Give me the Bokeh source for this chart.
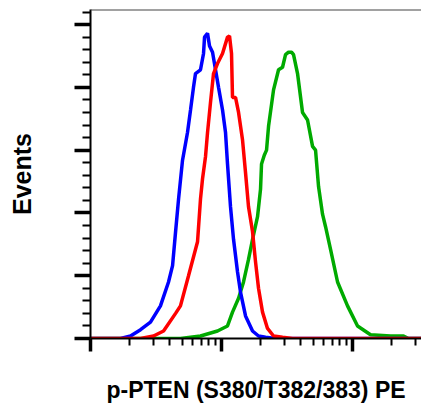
from bokeh.plotting import figure
from bokeh.models import FixedTicker, Span
from bokeh.embed import file_html
from bokeh.resources import INLINE

# Fluorescence intensity (log axis) and event counts for each histogram
blue_x = [1, 1.694, 2.02, 2.41, 2.87, 3.42, 3.94, 4.23, 4.46, 4.70, 5.04, 5.50, 5.80, 6.11, 6.33,
          6.91, 7.29, 7.42, 7.82, 8.10, 8.54, 9.00, 9.49, 10.18, 10.73, 11.11, 11.71, 12.35, 13.25,
          13.96, 15.25, 17.25, 19.16, 21.68, 25.84, 336]
blue_y = [0, 0, 2, 7, 13, 26, 45, 58, 85, 111, 142, 164, 182, 200, 211,
          214, 227, 240, 243, 233, 228, 214, 200, 182, 164, 139, 105, 79, 53,
          37, 18, 6, 2, 1, 0, 0]

red_x = [1, 2.41, 3.03, 3.61, 4.46, 4.86, 5.60, 6.56, 6.91, 7.16, 7.55, 7.82, 8.24, 8.69, 9.32,
         10.18, 11.11, 11.51, 11.92, 12.13, 12.79, 13.49, 14.47, 15.25, 16.07, 17.25, 18.18, 19.16,
         20.56, 22.44, 24.95, 29.22, 34.83, 336]
red_y = [0, 0, 2, 6, 20, 26, 50, 77, 111, 127, 145, 164, 188, 211, 219,
         227, 240, 241, 227, 192, 192, 180, 158, 132, 105, 85, 61, 40,
         21, 8, 2, 1, 0, 0]

green_x = [1, 4.86, 6.91, 9.32, 11.11, 12.13, 13.49, 14.72, 16.07, 17.25, 18.83, 19.85, 20.20,
           21.2, 22.06, 22.85, 24.95, 27.24, 29.22, 30.80, 32.48, 34.22, 35.45, 38.04, 41.53,
           45.35, 49.52, 52.20, 55.03, 59.02, 62.23, 67.94, 76.84, 91.57, 109.2, 137.2, 195.0,
           245.1, 267.6, 336]
green_y = [0, 0, 2, 6, 10, 21, 32, 45, 63, 79, 97, 119, 139,
           146, 150, 169, 198, 214, 216, 226, 228, 228, 226, 211, 180,
           174, 153, 150, 121, 99, 89, 71, 45, 26, 10, 3, 2,
           2, 0, 0]

x_major = [1, 10, 100, 1000]
y_major = [0, 50, 100, 150, 200, 250]

x_minor = [m * d for d in (1, 10, 100) for m in range(2, 10)]
y_minor = [v for v in range(0, 270, 10) if v % 50 != 0]

p = figure(width=421, height=405, x_axis_type="log", x_range=(1, 336), y_range=(0, 262),
           output_backend="svg", toolbar_location=None,
           min_border_left=90, min_border_right=0, min_border_top=9, min_border_bottom=65)
p.outline_line_color = None
p.xgrid.grid_line_color = None
p.ygrid.grid_line_color = None
p.background_fill_color = "white"
p.border_fill_color = "white"

p.line(green_x, green_y, line_color="#00aa00", line_width=3.5)
p.line(blue_x, blue_y, line_color="#0000ff", line_width=3.5)
p.line(red_x, red_y, line_color="#ff0000", line_width=3.5)

top = Span(location=262, dimension="width", line_color="#444444", line_width=2)
p.add_layout(top)

for ax in (p.xaxis[0], p.yaxis[0]):
    ax.major_label_text_font_size = "1px"
    ax.major_label_text_color = None
    ax.major_label_standoff = 0
    ax.axis_line_width = 2
    ax.axis_line_color = "black"
    ax.major_tick_line_width = 3.5
    ax.minor_tick_line_width = 2
    ax.major_tick_in = 0
    ax.minor_tick_in = 0
    ax.axis_label_text_font = "Liberation Sans"
    ax.axis_label_text_font_style = "bold"
    ax.axis_label_text_color = "black"

xa = p.xaxis[0]
xa.ticker = FixedTicker(ticks=x_major, minor_ticks=x_minor)
xa.major_tick_out = 13
xa.minor_tick_out = 7
xa.axis_label = "p-PTEN (S380/T382/383) PE"
xa.axis_label_text_font_size = "23px"
xa.axis_label_standoff = 25

ya = p.yaxis[0]
ya.ticker = FixedTicker(ticks=y_major, minor_ticks=y_minor)
ya.major_tick_out = 16
ya.minor_tick_out = 8
ya.axis_label = "Events"
ya.axis_label_text_font_size = "25px"
ya.axis_label_standoff = 39

open("out.html", "w").write(file_html(p, INLINE))
